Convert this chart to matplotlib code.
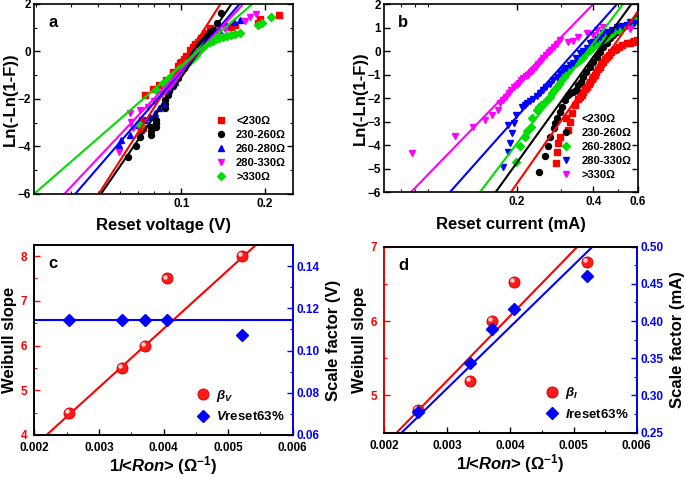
import matplotlib
matplotlib.use("Agg")
import matplotlib.pyplot as plt
import matplotlib.transforms as mtransforms
from matplotlib.ticker import AutoMinorLocator, FixedLocator, NullFormatter, MultipleLocator

plt.rcParams['font.family'] = ['Liberation Sans', 'DejaVu Sans']
plt.rcParams['font.weight'] = 'bold'
plt.rcParams['axes.labelweight'] = 'bold'
plt.rcParams['mathtext.fontset'] = 'custom'
plt.rcParams['mathtext.rm'] = 'Liberation Sans:bold'
plt.rcParams['mathtext.it'] = 'Liberation Sans:italic:bold'
plt.rcParams['mathtext.bf'] = 'Liberation Sans:bold'

# ---- panel a: Weibull plot of reset voltage ----
a_red_x = [0.0717, 0.0720, 0.0727, 0.0743, 0.0790, 0.0830, 0.0883, 0.0932, 0.0970, 0.1000, 0.1040,
           0.1070, 0.1100, 0.1148, 0.1180, 0.1214, 0.1265, 0.1515, 0.1560, 0.1890, 0.1920, 0.2250,
           0.0985, 0.1020, 0.1120, 0.1165, 0.1240]
a_red_y = [-3.30, -2.90, -3.23, -1.83, -1.60, -1.40, -1.20, -0.85, -0.60, -0.43, -0.20,
           0.06, 0.20, 0.41, 0.55, 0.77, 1.00, 1.02, 1.12, 1.21, 1.36, 1.54,
           -0.50, -0.30, 0.30, 0.48, 0.65]
a_black_x = [0.0642, 0.0687, 0.0708, 0.0779, 0.0779, 0.0779, 0.0812, 0.0812, 0.0812, 0.0870, 0.0870,
             0.0870, 0.0895, 0.0930, 0.0970, 0.1010, 0.1060, 0.1120, 0.1180, 0.1240, 0.1300, 0.1340, 0.1394,
             0.0905, 0.0950, 0.0990, 0.1090, 0.1150, 0.1210, 0.1270]
a_black_y = [-4.43, -3.98, -3.59, -3.52, -3.35, -3.17, -3.17, -3.00, -2.88, -2.38, -2.20,
             -2.04, -1.83, -1.45, -1.10, -0.75, -0.35, 0.00, 0.34, 0.65, 0.91, 1.19, 1.61,
             -1.65, -1.25, -0.90, -0.15, 0.17, 0.50, 0.80]
a_blue_x = [0.0598, 0.0607, 0.0651, 0.0700, 0.0737, 0.0770, 0.0801, 0.0830, 0.0858, 0.0895, 0.0946,
            0.1000, 0.1040, 0.1080, 0.1130, 0.1180, 0.1240, 0.1300, 0.1370, 0.1450, 0.1550, 0.1620,
            0.0920, 0.0970, 0.1020, 0.1060, 0.1110, 0.1210, 0.1270]
a_blue_y = [-3.94, -3.73, -3.52, -3.10, -2.88, -2.75, -2.60, -2.40, -2.18, -1.62, -1.27,
            -0.78, -0.50, -0.25, 0.00, 0.25, 0.50, 0.70, 0.90, 1.10, 1.25, 1.33,
            -1.45, -1.05, -0.65, -0.38, -0.12, 0.38, 0.60]
a_mag_x = [0.0598, 0.0651, 0.0660, 0.0669, 0.0708, 0.0758, 0.0800, 0.0850, 0.0900, 0.0950, 0.1000,
           0.1050, 0.1100, 0.1160, 0.1220, 0.1280, 0.1350, 0.1430, 0.1690, 0.1760, 0.1860,
           0.0875, 0.0925, 0.0975, 0.1025, 0.1075, 0.1130, 0.1190]
a_mag_y = [-4.22, -2.60, -2.96, -3.23, -2.46, -2.32, -2.10, -1.80, -1.50, -1.20, -0.90,
           -0.60, -0.30, 0.00, 0.25, 0.50, 0.75, 0.95, 1.30, 1.44, 1.58,
           -1.65, -1.35, -1.05, -0.75, -0.45, -0.15, 0.12]
a_green_x = [0.0708, 0.0812, 0.0858, 0.0900, 0.0959, 0.1000, 0.1042, 0.1090, 0.1133, 0.1197, 0.1265,
             0.1338, 0.1413, 0.1510, 0.1620, 0.1890, 0.1944, 0.2096,
             0.0885, 0.0930, 0.0980, 0.1020, 0.1070, 0.1110, 0.1160, 0.1230, 0.1300, 0.1370, 0.1460, 0.1560]
a_green_y = [-3.09, -1.62, -1.34, -1.10, -0.85, -0.65, -0.50, -0.30, -0.15, 0.20, 0.41,
             0.51, 0.60, 0.69, 0.77, 1.12, 1.21, 1.44,
             -1.20, -0.98, -0.75, -0.58, -0.40, -0.22, 0.00, 0.30, 0.46, 0.55, 0.65, 0.73]
# fitted lines: x where the line crosses y=-6 and y=2
a_fit_x = {'red': [0.0504, 0.1383], 'black': [0.0514, 0.1515], 'blue': [0.0415, 0.1620],
           'magenta': [0.0379, 0.1670], 'green': [0.0295, 0.1800]}
a_fit_y = [-6, 2]

# ---- panel b: Weibull plot of reset current ----
b_red_x = [0.2866, 0.2877, 0.2913, 0.2966, 0.3195, 0.3245, 0.3291, 0.3390, 0.3500, 0.3541, 0.3650, 0.3775,
           0.3900, 0.4000, 0.4120, 0.4245, 0.4380, 0.4528, 0.4820, 0.5038, 0.5447, 0.5741, 0.5920,
           0.3600, 0.3700, 0.3850, 0.3950, 0.4050, 0.4180, 0.4300, 0.4450, 0.4600, 0.4700, 0.4900,
           0.5200, 0.5600, 0.5800]
b_red_y = [-4.75, -4.28, -3.93, -3.65, -3.36, -3.02, -2.65, -2.30, -2.05, -1.94, -1.75, -1.52,
           -1.30, -1.09, -0.88, -0.67, -0.45, -0.24, 0.04, 0.18, 0.33, 0.40, 0.47,
           -1.85, -1.62, -1.40, -1.20, -1.00, -0.78, -0.56, -0.35, -0.15, -0.05, 0.10,
           0.25, 0.36, 0.43]
b_black_x = [0.2454, 0.2584, 0.2664, 0.2704, 0.2794, 0.2836, 0.2877, 0.2966, 0.3010, 0.3097, 0.3195,
             0.3334, 0.3430, 0.3647, 0.3880, 0.4130, 0.4385, 0.4660, 0.4962, 0.5447, 0.5926,
             0.3250, 0.3500, 0.3570, 0.3760, 0.4000, 0.4250, 0.4520, 0.4800, 0.5200, 0.5700]
b_black_y = [-5.16, -4.45, -4.04, -3.65, -3.29, -3.08, -2.86, -2.58, -2.37, -2.09, -1.87,
             -1.75, -1.66, -1.09, -0.67, -0.24, 0.18, 0.54, 0.82, 1.11, 1.39,
             -1.80, -1.45, -1.30, -0.88, -0.45, -0.02, 0.36, 0.68, 0.97, 1.25]
b_green_x = [0.1980, 0.2060, 0.2154, 0.2268, 0.2290, 0.2398, 0.2500, 0.2629, 0.2750, 0.2877, 0.3000,
             0.3131, 0.3300, 0.3541, 0.3750, 0.4000, 0.4250, 0.4528, 0.5038, 0.5741, 0.5920,
             0.2200, 0.2450, 0.2560, 0.2700, 0.2810, 0.2940, 0.3060, 0.3200, 0.3420, 0.3650, 0.3870,
             0.4120, 0.4400, 0.4750, 0.5350]
b_green_y = [-4.71, -4.03, -3.65, -3.22, -2.86, -2.51, -2.30, -2.09, -1.80, -1.52, -1.25,
             -0.95, -0.65, -0.38, -0.10, 0.18, 0.40, 0.61, 0.89, 1.18, 1.32,
             -3.40, -2.40, -2.20, -1.95, -1.66, -1.38, -1.10, -0.80, -0.50, -0.25, 0.05,
             0.30, 0.50, 0.75, 1.05]
b_blue_x = [0.1773, 0.1852, 0.1852, 0.1879, 0.1910, 0.1951, 0.1980, 0.2090, 0.2200, 0.2326, 0.2546, 0.2700,
            0.2877, 0.3131, 0.3334, 0.3541, 0.3775, 0.3883, 0.4130, 0.4385, 0.4528, 0.4962, 0.5447, 0.5566, 0.5791,
            0.2150, 0.2260, 0.2400, 0.2470, 0.2620, 0.2780, 0.2970, 0.3050, 0.3230, 0.3430, 0.3650,
            0.4000, 0.4250, 0.4750, 0.5200]
b_blue_y = [-4.92, -4.28, -3.15, -3.93, -3.50, -3.08, -2.72, -2.37, -2.20, -2.05, -1.66, -1.40,
            -1.09, -0.70, -0.50, -0.10, 0.15, 0.33, 0.50, 0.75, 0.80, 1.03, 1.10, 1.25, 1.20,
            -2.30, -2.12, -1.90, -1.78, -1.55, -1.25, -0.92, -0.80, -0.60, -0.30, 0.00,
            0.40, 0.62, 0.90, 1.08]
b_mag_x = [0.0774, 0.1146, 0.1350, 0.1502, 0.1595, 0.1690, 0.1720, 0.1773, 0.1860, 0.1951, 0.2040, 0.2120,
           0.2220, 0.2326, 0.2430, 0.2546, 0.2670, 0.2794, 0.2966, 0.3195, 0.3334, 0.3500, 0.3775, 0.4000,
           0.4130, 0.4385, 0.5570,
           0.1820, 0.1900, 0.2000, 0.2080, 0.2170, 0.2270, 0.2380, 0.2490, 0.2610, 0.2730, 0.2870]
b_mag_y = [-4.33, -3.62, -3.22, -2.94, -2.72, -2.51, -2.23, -2.09, -1.80, -1.52, -1.35, -1.16,
           -1.00, -0.81, -0.55, -0.31, -0.05, 0.18, 0.47, 0.40, 0.43, 0.61, 0.75, 0.68,
           0.89, 1.03, 0.92,
           -1.95, -1.65, -1.45, -1.25, -1.08, -0.90, -0.68, -0.43, -0.18, 0.05, 0.30]
b_fit_x = {'red': [0.190, 0.600], 'black': [0.1654, 0.565], 'green': [0.1435, 0.524],
           'blue': [0.1094, 0.496], 'magenta': [0.0769, 0.400]}
b_fit_y = {'red': [-6, 1.7], 'black': [-6, 2], 'green': [-6, 2], 'blue': [-6, 2], 'magenta': [-6, 2]}

# ---- panels c, d: Weibull slope and scale factor vs 1/<Ron> ----
inv_ron = [0.00254, 0.00336, 0.00371, 0.00406, 0.00521]
beta_v = [4.5, 5.5, 6.0, 7.5, 8.0]
v_reset63 = [0.1145, 0.1145, 0.1145, 0.1145, 0.1075]
beta_i = [4.8, 5.2, 6.0, 6.52, 6.8]
i_reset63 = [0.278, 0.343, 0.389, 0.416, 0.460]
c_beta_fit_x, c_beta_fit_y = [0.00219, 0.00543], [4.0, 8.25]
c_v_fit_x, c_v_fit_y = [0.002, 0.006], [0.1145, 0.1145]
d_beta_fit_x, d_beta_fit_y = [0.002196, 0.00506], [4.5, 7.0]
d_i_fit_x, d_i_fit_y = [0.002275, 0.0053], [0.25, 0.50]

LABEL_FS = 12
TICK_FS = 8.5
GREEN = '#00dd00'


def style_ticks(ax, **kw):
    ax.tick_params(which='both', direction='in', labelsize=TICK_FS, pad=3, **kw)
    ax.tick_params(which='major', length=4, width=1)
    ax.tick_params(which='minor', length=2, width=0.8)
    for lab in ax.get_xticklabels() + ax.get_yticklabels():
        lab.set_fontweight('bold')


def weibull_panel(ax, groups, fits, fit_y, letter, xlabel, xlim, xticks, xticklabels, ymajor):
    for label, color, marker, xs, ys in groups:
        ax.plot(xs, ys, linestyle='none', marker=marker, color=color, ms=4.3, label=label)
    for label, color, marker, xs, ys in groups:
        fy = fit_y[color] if isinstance(fit_y, dict) else fit_y
        ax.plot(fits[color], fy, color=color, lw=1.5)
    ax.set_xscale('log')
    ax.set_xlim(*xlim)
    ax.set_ylim(-6, 2)
    ax.xaxis.set_major_locator(FixedLocator(xticks))
    ax.set_xticklabels(xticklabels)
    ax.xaxis.set_minor_formatter(NullFormatter())
    ax.yaxis.set_major_locator(MultipleLocator(ymajor))
    ax.yaxis.set_minor_locator(MultipleLocator(1))
    ax.set_xlabel(xlabel, fontsize=LABEL_FS, fontweight='bold', labelpad=6)
    ax.set_ylabel('Ln(-Ln(1-F))', fontsize=LABEL_FS, fontweight='bold', labelpad=0)
    style_ticks(ax, top=True, right=True)
    ax.tick_params(axis='y', pad=2)
    ax.text(0.055, 0.9, letter, transform=ax.transAxes, fontsize=12, fontweight='bold', va='center')
    ax.legend(loc='lower right', bbox_to_anchor=(1.0, 0.03), frameon=False,
              prop={'size': 8, 'weight': 'bold'}, handlelength=1.0, handletextpad=0.9,
              labelspacing=0.35, borderaxespad=0.2)
    for sp in ax.spines.values():
        sp.set_linewidth(1.2)


def draw_spheres(fig, ax, xs, ys):
    h, = ax.plot(xs, ys, linestyle='none', marker='o', ms=8, mfc='#ff1a1a', mec='#cc0000', mew=0.6)
    tr = mtransforms.offset_copy(ax.transData, fig=fig, x=-1.4, y=1.4, units='points')
    ax.plot(xs, ys, linestyle='none', marker='o', ms=3.2, mfc='#ffd0d0', mec='none', transform=tr)
    return h


def slope_panel(fig, ax, letter, beta, beta_fit, scale, scale_fit, ylim_l, yticks_l, ylim_r, yticks_r,
                right_label, beta_label, scale_label, left_spine_red):
    ax2 = ax.twinx()
    ax.plot(beta_fit[0], beta_fit[1], color='red', lw=1.5)
    h1 = draw_spheres(fig, ax, inv_ron, beta)
    ax2.plot(scale_fit[0], scale_fit[1], color='blue', lw=1.5)
    h2, = ax2.plot(inv_ron, scale, linestyle='none', marker='D', ms=6.5, color='blue')
    ax.set_xlim(0.002, 0.006)
    ax.set_ylim(*ylim_l)
    ax2.set_ylim(*ylim_r)
    ax.set_xticks([0.002, 0.003, 0.004, 0.005, 0.006])
    ax.set_xticklabels(['0.002', '0.003', '0.004', '0.005', '0.006'])
    ax.xaxis.set_minor_locator(AutoMinorLocator(2))
    ax.set_yticks(yticks_l)
    ax.yaxis.set_minor_locator(AutoMinorLocator(2))
    ax2.set_yticks(yticks_r)
    ax2.set_yticklabels(['%.2f' % v for v in yticks_r])
    ax2.yaxis.set_minor_locator(AutoMinorLocator(2))
    style_ticks(ax)
    style_ticks(ax2)
    ax.tick_params(axis='x', pad=5)
    ax.tick_params(axis='y', which='both', colors='red', labelcolor='red', pad=5)
    ax2.tick_params(axis='y', which='both', colors='blue', labelcolor='blue')
    for a in (ax, ax2):
        for sp in a.spines.values():
            sp.set_linewidth(1.2)
    ax2.spines['right'].set_color('blue')
    ax2.spines['left'].set_color('red' if left_spine_red else 'black')
    ax.set_xlabel(r'1/<$\mathit{Ron}$> ($\Omega^{-1}$)', fontsize=LABEL_FS, fontweight='bold', labelpad=0)
    ax.set_ylabel('Weibull slope', fontsize=LABEL_FS, fontweight='bold', labelpad=3)
    ax2.set_ylabel(right_label, fontsize=LABEL_FS, fontweight='bold', labelpad=4)
    ax.text(0.055, 0.9, letter, transform=ax.transAxes, fontsize=12, fontweight='bold', va='center')
    ax2.legend([h1, h2], [beta_label, scale_label], loc='lower right', bbox_to_anchor=(1.0, 0.02),
               frameon=False, prop={'size': 9.5, 'weight': 'bold'}, handlelength=1.0,
               handletextpad=0.5, labelspacing=0.5, borderaxespad=0.2)


fig = plt.figure(figsize=(6.85, 4.79), dpi=100)
fig.patch.set_facecolor('white')

ax_a = fig.add_axes([0.0496, 0.595, 0.378, 0.3967])
ax_b = fig.add_axes([0.5606, 0.599, 0.3708, 0.3925])
ax_c = fig.add_axes([0.0501, 0.0919, 0.3772, 0.3967])
ax_d = fig.add_axes([0.5610, 0.0967, 0.3685, 0.3883])

groups_a = [
    ('<230Ω', 'red', 's', a_red_x, a_red_y),
    ('230-260Ω', 'black', 'o', a_black_x, a_black_y),
    ('260-280Ω', 'blue', '^', a_blue_x, a_blue_y),
    ('280-330Ω', 'magenta', 'v', a_mag_x, a_mag_y),
    ('>330Ω', GREEN, 'D', a_green_x, a_green_y),
]
groups_b = [
    ('<230Ω', 'red', 's', b_red_x, b_red_y),
    ('230-260Ω', 'black', 'o', b_black_x, b_black_y),
    ('260-280Ω', GREEN, 'D', b_green_x, b_green_y),
    ('280-330Ω', 'blue', 'v', b_blue_x, b_blue_y),
    ('>330Ω', 'magenta', 'v', b_mag_x, b_mag_y),
]
a_fit_x[GREEN] = a_fit_x.pop('green')
b_fit_x[GREEN] = b_fit_x.pop('green')
b_fit_y[GREEN] = b_fit_y.pop('green')

weibull_panel(ax_a, groups_a, a_fit_x, a_fit_y, 'a', 'Reset voltage (V)', (0.0295, 0.252),
              [0.1, 0.2], ['0.1', '0.2'], 2)
weibull_panel(ax_b, groups_b, b_fit_x, b_fit_y, 'b', 'Reset current (mA)', (0.0602, 0.6),
              [0.2, 0.4, 0.6], ['0.2', '0.4', '0.6'], 1)

slope_panel(fig, ax_c, 'c', beta_v, (c_beta_fit_x, c_beta_fit_y), v_reset63, (c_v_fit_x, c_v_fit_y),
            (4, 8.25), [4, 5, 6, 7, 8], (0.06, 0.15), [0.06, 0.08, 0.10, 0.12, 0.14],
            'Scale factor (V)', r'$\beta_V$', r'$V$reset63%', False)
slope_panel(fig, ax_d, 'd', beta_i, (d_beta_fit_x, d_beta_fit_y), i_reset63, (d_i_fit_x, d_i_fit_y),
            (4.5, 7.0), [5, 6, 7], (0.25, 0.50), [0.25, 0.30, 0.35, 0.40, 0.45, 0.50],
            'Scale factor (mA)', r'$\beta_I$', r'$I$reset63%', True)

plt.savefig('out.png', dpi=100, facecolor='white')
plt.close()
